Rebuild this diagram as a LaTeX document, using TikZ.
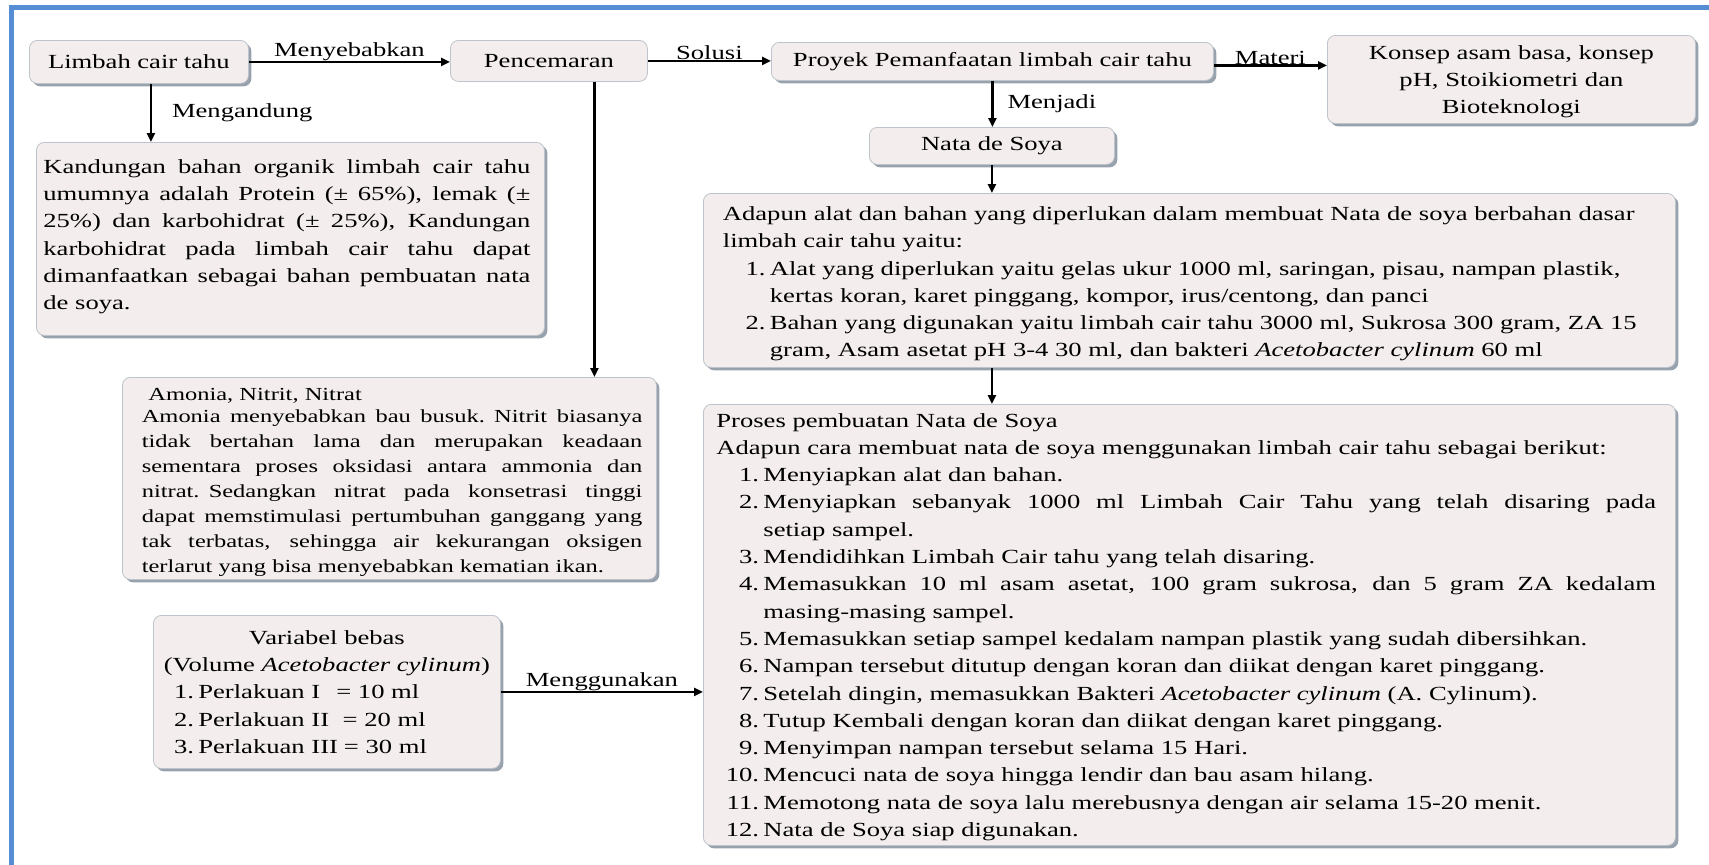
\documentclass[tikz,border=0pt]{standalone}
\usepackage{fontspec}
\setmainfont{Liberation Serif}[FakeStretch=1.33]
\usepackage{tikz}
\usetikzlibrary{arrows.meta, shadows, positioning}

\definecolor{boxfill}{RGB}{243,237,237}
\definecolor{boxline}{RGB}{190,196,204}
\definecolor{boxshade}{RGB}{152,162,173}
\definecolor{frameblue}{RGB}{86,141,212}

\newcommand{\jline}[2]{\makebox[#1][s]{\spaceskip=\fontdimen2\font plus 1fil\relax #2}}
\newcommand{\itm}[3][47pt]{\makebox[#1][r]{#2\hspace{4.4pt}}#3}

\begin{document}
\begin{tikzpicture}[x=1pt, y=-1pt,
    plainbox/.style={draw=boxline, fill=boxfill, rounded corners=8pt, line width=0.8pt,
      inner sep=0pt, anchor=north west, align=left,
      font=\fontsize{20pt}{27.3pt}\selectfont},
    box/.style={plainbox, drop shadow={shadow xshift=3pt, shadow yshift=-3pt, opacity=1, fill=boxshade}},
    lbl/.style={font=\fontsize{20pt}{24pt}\selectfont, inner sep=0pt},
    arr/.style={line width=2.2pt, -{Triangle[length=9pt,width=8pt]}}]
                      \useasboundingbox (0,0) rectangle (1709,865);
                      \draw[frameblue, line width=5pt] (11,865) -- (11,7.5) -- (1709,7.5);

                      \node[box, minimum width=219pt, minimum height=43pt, align=center] (limbah) at (29,40) {Limbah cair tahu};
                      \node[plainbox, minimum width=197pt, minimum height=41pt, align=center] (pencemaran) at (450,40) {Pencemaran};
                      \node[box, minimum width=442pt, minimum height=38pt, align=center] (proyek) at (771,42) {Proyek Pemanfaatan limbah cair tahu};
                      \node[box, minimum width=368pt, minimum height=88pt, text width=368pt, align=center] (konsep) at (1327,35) {\rule{0pt}{18.7pt}Konsep asam basa, konsep\\pH, Stoikiometri dan\\Bioteknologi\par};
                      \node[box, minimum width=245pt, minimum height=37pt, align=center] (nata) at (869,127) {Nata de Soya};

                      \node[box, minimum width=508pt, minimum height=193pt, text width=508pt] (kandungan) at (36,142) {\leftskip=7pt
                        \jline{487pt}{Kandungan bahan organik limbah cair tahu}\\
                        \jline{487pt}{umumnya adalah Protein (± 65\%), lemak (±}\\
                        \jline{487pt}{25\%) dan karbohidrat (± 25\%), Kandungan}\\
                        \jline{487pt}{karbohidrat pada limbah cair tahu dapat}\\
                        \jline{487pt}{dimanfaatkan sebagai bahan pembuatan nata}\\
                        de soya.\rule[-8.7pt]{0pt}{1pt}\par};

                      \node[box, minimum width=534pt, minimum height=202pt, text width=534pt,
                        font=\fontsize{18.4pt}{25pt}\selectfont] (amonia) at (122,377) {\leftskip=19.4pt
                        \rule{0pt}{21pt}\hspace*{6.6pt}Amonia, Nitrit, Nitrat\\[-3pt]
                        \jline{500.6pt}{Amonia menyebabkan bau busuk. Nitrit biasanya}\\
                        \jline{500.6pt}{tidak bertahan lama dan merupakan keadaan}\\
                        \jline{500.6pt}{sementara proses oksidasi antara ammonia dan}\\
                        \jline{500.6pt}{nitrat. Sedangkan nitrat pada konsetrasi tinggi}\\
                        \jline{500.6pt}{dapat memstimulasi pertumbuhan ganggang yang}\\
                        \jline{500.6pt}{tak terbatas, sehingga air kekurangan oksigen}\\
                        terlarut yang bisa menyebabkan kematian ikan.\par};

                      \node[box, minimum width=347pt, minimum height=153pt, text width=347pt] (variabel) at (153,615) {
                        \makebox[347pt][c]{Variabel bebas}\\
                        \makebox[347pt][c]{(Volume \textit{Acetobacter cylinum})}\\
                        \itm[45pt]{1.}{Perlakuan I\hspace{16pt}= 10 ml}\\
                        \itm[45pt]{2.}{Perlakuan II\hspace{13.5pt}= 20 ml}\\
                        \itm[45pt]{3.}{Perlakuan III\hspace{6pt}= 30 ml}\par};

                      \node[box, minimum width=972pt, minimum height=174pt, text width=972pt] (alatbahan) at (703,193) {\leftskip=19.5pt
                        \rule{0pt}{20.9pt}Adapun alat dan bahan yang diperlukan dalam membuat Nata de soya berbahan dasar\\
                        limbah cair tahu yaitu:\\
                        \itm{1.}{Alat yang diperlukan yaitu gelas ukur 1000 ml, saringan, pisau, nampan plastik,}\\
                        \hspace*{47pt}kertas koran, karet pinggang, kompor, irus/centong, dan panci\\
                        \itm{2.}{Bahan yang digunakan yaitu limbah cair tahu 3000 ml, Sukrosa 300 gram, ZA 15}\\
                        \hspace*{47pt}gram, Asam asetat pH 3-4 30 ml, dan bakteri \textit{Acetobacter cylinum} 60 ml\par};

                      \node[box, minimum width=972pt, minimum height=441pt, text width=972pt] (proses) at (703,404) {\leftskip=13pt
                        \rule{0pt}{18.1pt}Proses pembuatan Nata de Soya\\
                        Adapun cara membuat nata de soya menggunakan limbah cair tahu sebagai berikut:\\
                        \itm{1.}{Menyiapkan alat dan bahan.}\\
                        \itm{2.}{\jline{892.6pt}{Menyiapkan sebanyak 1000 ml Limbah Cair Tahu yang telah disaring pada}}\\
                        \hspace*{47pt}setiap sampel.\\
                        \itm{3.}{Mendidihkan Limbah Cair tahu yang telah disaring.}\\
                        \itm{4.}{\jline{892.6pt}{Memasukkan 10 ml asam asetat, 100 gram sukrosa, dan 5 gram ZA kedalam}}\\
                        \hspace*{47pt}masing-masing sampel.\\
                        \itm{5.}{Memasukkan setiap sampel kedalam nampan plastik yang sudah dibersihkan.}\\
                        \itm{6.}{Nampan tersebut ditutup dengan koran dan diikat dengan karet pinggang.}\\
                        \itm{7.}{Setelah dingin, memasukkan Bakteri \textit{Acetobacter cylinum} (A. Cylinum).}\\
                        \itm{8.}{Tutup Kembali dengan koran dan diikat dengan karet pinggang.}\\
                        \itm{9.}{Menyimpan nampan tersebut selama 15 Hari.}\\
                        \itm{10.}{Mencuci nata de soya hingga lendir dan bau asam hilang.}\\
                        \itm{11.}{Memotong nata de soya lalu merebusnya dengan air selama 15-20 menit.}\\
                        \itm{12.}{Nata de Soya siap digunakan.}\par};

                      \draw[arr] (limbah.east) -- node[lbl, above] {Menyebabkan} (limbah.east -| pencemaran.west);
                      \draw[arr] (pencemaran.east) -- node[lbl, above] {Solusi} (pencemaran.east -| proyek.west);
                      \draw[arr] ([yshift=-4pt]proyek.east) -- node[lbl, above] {Materi} ([yshift=-4pt]proyek.east -| konsep.west);
                      \draw[arr] ([xshift=12pt]limbah.south) -- node[lbl, right=20pt] {Mengandung} ([xshift=12pt]limbah.south |- kandungan.north);
                      \draw[arr] ([xshift=45.5pt]pencemaran.south) -- ([xshift=45.5pt]pencemaran.south |- amonia.north);
                      \draw[arr] (proyek.south) -- node[lbl, right=14pt] {Menjadi} (proyek.south |- nata.north);
                      \draw[arr] (nata.south) -- (nata.south |- alatbahan.north);
                      \draw[arr] (nata.south |- alatbahan.south) -- (nata.south |- proses.north);
                      \draw[arr] (variabel.east) -- node[lbl, above] {Menggunakan} (variabel.east -| proses.west);
                  \end{tikzpicture}
\end{document}
